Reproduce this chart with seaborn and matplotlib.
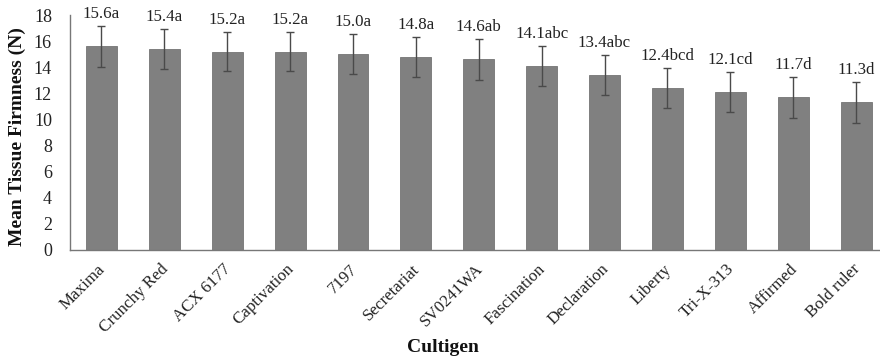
import matplotlib
matplotlib.use("Agg")
import matplotlib.pyplot as plt
import matplotlib.transforms as mtransforms
import seaborn as sns
import pandas as pd

cultigens = ["Maxima", "Crunchy Red", "ACX 6177", "Captivation", "7197", "Secretariat",
             "SV0241WA", "Fascination", "Declaration", "Liberty", "Tri-X-313", "Affirmed", "Bold ruler"]
means = [15.6, 15.4, 15.2, 15.2, 15.0, 14.8, 14.6, 14.1, 13.4, 12.4, 12.1, 11.7, 11.3]
errors = [1.55, 1.53, 1.52, 1.52, 1.55, 1.55, 1.55, 1.55, 1.55, 1.55, 1.55, 1.56, 1.55]
letters = ["a", "a", "a", "a", "a", "a", "ab", "abc", "abc", "bcd", "cd", "d", "d"]

df = pd.DataFrame({"Cultigen": cultigens, "Firmness": means})

sns.set_style("white")
plt.rcParams["font.family"] = ["Liberation Serif", "DejaVu Serif"]

fig = plt.figure(figsize=(8.8, 3.6), dpi=100)
ax = fig.add_axes([70/880, 1-250/360, 1-70/880, (250-15)/360])

sns.barplot(data=df, x="Cultigen", y="Firmness", color="#808080", width=0.49,
            edgecolor="#747474", linewidth=0.6, saturation=1, ax=ax, errorbar=None)
xs = list(range(len(cultigens)))
ax.errorbar(xs, means, yerr=errors, fmt="none", ecolor="#4a4a4a", elinewidth=1.0,
            capsize=3, capthick=1.0)

for x, m, e, l in zip(xs, means, errors, letters):
    ax.text(x, m + e + 0.3, f"{m:.1f}{l}", ha="center", va="bottom", fontsize=12.2,
            color="#222222", clip_on=False)

ax.set_ylim(0, 18)
ax.set_yticks(range(0, 19, 2))
ax.set_xlim(-0.5, 12.38)
ax.tick_params(axis="y", labelsize=13, length=0, pad=13, colors="#222222")
ax.tick_params(axis="x", labelsize=12.2, length=0, pad=8, colors="#222222")
offset = mtransforms.ScaledTranslation(-4/100, 0, fig.dpi_scale_trans)
for lab in ax.get_xticklabels():
    lab.set_rotation(45)
    lab.set_ha("right")
    lab.set_rotation_mode("anchor")
    lab.set_transform(lab.get_transform() + offset)

ax.set_xlabel("")
ax.set_ylabel("")
for s in ["top", "right"]:
    ax.spines[s].set_visible(False)
ax.spines["left"].set_color("#777777")
ax.spines["bottom"].set_color("#777777")
ax.spines["left"].set_linewidth(1.0)
ax.spines["bottom"].set_linewidth(1.0)

fig.text(17/880, 1-137/360, "Mean Tissue Firmness (N)", rotation=90, ha="center", va="center",
         fontsize=14, fontweight="bold", color="#111111")
fig.text(443/880, 1-348/360, "Cultigen", ha="center", va="center",
         fontsize=14, fontweight="bold", color="#111111")

fig.savefig("out.png", dpi=100)
